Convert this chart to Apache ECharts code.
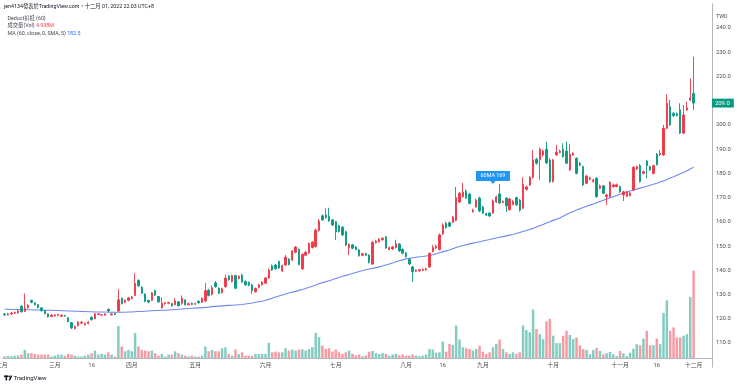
<!DOCTYPE html>
<html><head><meta charset="utf-8">
<script src="https://cdn.jsdelivr.net/npm/echarts@6/dist/echarts.min.js"></script>
<style>html,body{margin:0;padding:0;background:#fff;}#c{width:740px;height:385px;}</style>
</head><body><div id="c"></div>
<script>
// ---- categories (trading days per month, Feb 7 2022 .. Dec 1 2022) ----
const monthNames = ['2022-02','2022-03','2022-04','2022-05','2022-06','2022-07','2022-08','2022-09','2022-10','2022-11','2022-12'];
const monthDays = [15,23,19,21,21,21,23,21,20,22,1];
const tickIndex = [0,15,26,38,57,78,99,120,131,143,164,184,195,206];
const tickText = ['二月','三月','16','四月','五月','六月','七月','八月','16','九月','十月','十一月','16','十二月'];
const yTicks = [110,120,130,140,150,160,170,180,190,200,220,230,240];

// ---- OHLC rows: [open, close, low, high] ----
const ohlcFeb = [
[122,121.6,121.2,122.4],[121.6,122,121.3,122.5],[122,122.3,121.7,122.8],[122.3,122.6,121.9,123],[122.5,123.2,122,123.8],
[125.2,122.9,122.5,125.6],[123,124.3,122.8,130.4],[124.5,125.5,124.2,126],[127.6,126.8,126.4,127.8],[126.6,125.8,125.5,126.9],
[125.8,124.6,124.3,126],[124.5,123.3,123,124.7],[123.4,122.1,121.8,123.6],[122,120.8,120.5,122.2],[120.9,121.5,120.6,121.8]];
const ohlcMar = [
[121.2,121.6,120.9,121.9],[121.4,121.8,121,122],[121,121.4,120.7,121.8],[121.3,121.1,120.8,121.6],[120.4,118.8,118.5,120.7],
[118.4,116.2,115.7,118.6],[116,116.8,115.6,117.2],[117.2,118.6,116.8,119],[118.2,118.6,117.9,119],[117.5,118,117.2,118.4],
[118,118.6,117.7,119],[120.6,119.6,119.3,121],[120,122,119.8,122.3],[121.8,122,121.5,122.3],[121.5,121.6,121.2,121.9],
[121.5,122,121.2,122.2],[123.9,123.2,122.8,124.2],[121.6,122,121.4,122.4],[122.2,121.8,121.4,122.4],[123.2,127.8,122.9,132.2],
[128.4,126.3,125.8,128.8],[126.8,127.6,126.4,128],[127.6,128.6,127.2,129]];
const ohlcApr = [
[128.4,129,128,129.4],[129.6,134.6,129.4,138.8],[135.8,133.6,133.2,136.3],[133,130.6,130.2,133.4],[130.2,127.2,126.8,130.4],
[127.6,126.9,126.4,127.8],[127.6,130.7,127.4,131],[131.6,129.8,129.4,132],[129.2,127,126.6,129.4],[124.5,126.4,124.2,128.8],
[126.2,126.6,125.8,127],[126.4,126.7,126,127],[126.3,125.3,125,126.6],[125.8,127.4,125.5,128.4],[127,125.4,125,127.3],
[126.4,128.4,125.8,129.6],[127.8,125.8,125.4,128],[125.8,126.2,125.5,126.6],[126.4,125.9,125.6,126.7]];
const ohlcMay = [
[126,126.3,125.7,126.6],[127.2,126.6,126.2,127.6],[126.8,128.4,126.6,128.8],[127.4,131.6,126.8,134.7],[131.8,129.6,129.2,132.4],
[130,132.8,129.6,133.8],[134.8,133.2,132.8,135.6],[132.6,130.6,130.2,133],[130.8,132.4,130.4,132.8],[133.2,136.8,132.8,138.2],
[137.6,136.1,135.7,138],[135.4,137.8,135,138.2],[137.8,132.6,132.2,138.2],[136.6,137.5,136.2,137.9],[138,135.2,134.8,138.6],
[135.4,134,133.6,135.8],[135,133.8,133.4,135.4],[134,131.6,130.3,134.4],[131.1,132.5,130.8,132.9],[133,134,132.6,134.4],
[134,135.1,133.7,135.5]];
const ohlcJun = [
[134.7,136.8,134.4,137.2],[136.8,140.1,136.5,140.8],[141.9,140.1,139.7,142.4],[142.2,140.6,140.2,142.6],[143.6,140.9,140.5,144],
[139.7,141.9,139.3,142.3],[142.2,145.4,141.8,146.3],[144.6,142.4,142,145],[144.2,148,143.8,148.4],[147.4,149.6,147,150],
[148.6,142.4,142,149],[140.6,146.6,140.2,147],[146.2,147.4,145.8,148],[147.1,151.1,146.8,151.5],[149.4,151.6,149,152],
[149.8,156.6,149.4,157.2],[156.4,160.3,156,161.2],[162.5,160.8,160.4,163],[162.8,161.8,161.3,165.6],[162.2,160.4,160,165.8],
[160.8,158.7,158.3,161.2]];
const ohlcJul = [
[160,155.9,152.5,160.4],[158.4,156,155.6,158.8],[157.8,154.6,154.2,158.2],[155.9,150.4,150,156.3],[149.3,150.7,146.3,151.1],
[150.5,149.1,148.7,150.9],[149.6,148.6,148.2,150],[148.4,146,145.6,148.8],[146.2,146.8,145.8,147.2],[146.8,146.2,145.8,147.2],
[146.3,143.2,142.8,146.6],[142.6,151.6,142.2,152],[151.4,152,151,152.6],[151.8,152.8,151.4,153.2],[152.6,153.2,152.2,153.6],
[153.8,149.2,148.8,154.2],[148.6,149.4,148.2,149.8],[148.8,149.6,148.4,150],[149.4,151,149,152.6],[150.8,148,147.6,151.2],
[148.6,147,146.6,149]];
const ohlcAug = [
[147.2,145.6,145.2,147.6],[144.6,142.6,142.2,145],[141.4,139.4,135.2,141.8],[139.6,140,139.2,140.4],[139.8,140.2,139.4,140.6],
[140,140.3,139.6,140.8],[140.2,140.6,139.8,141],[141.4,147,141,147.4],[147.8,149.4,147.4,150.4],[149.2,149.8,148.8,150.6],
[148.6,154.6,148.2,155.2],[155,158.7,154.6,159.4],[159.4,157.6,157.2,160],[159.6,158.2,157.8,160.2],[159.8,162,159.4,162.4],
[160.6,170,160.2,174.4],[168.2,171.8,167.8,172.4],[170.4,172.3,170,176],[172.7,169.8,169.4,173.4],[171.4,167.6,167.2,172],
[164.2,164.8,163.8,165.4],[166.1,169,165.8,169.6],[169.8,164.5,164,170.4]];
const ohlcSep = [
[166.1,163.6,163.2,166.6],[163.4,162.8,162.4,163.8],[163.6,162.4,162,164],[163.6,168.6,163.2,169.2],[168.2,170.3,167.8,170.8],
[171.5,167.8,167.4,175.6],[168,168.4,167.6,168.8],[169.8,166.6,164,170.2],[165,169.4,164.6,170],[167.2,168.4,166.8,169],
[170,167,166.6,170.4],[169,164.8,164.2,169.4],[165.6,175.4,165.2,178.4],[173.4,174.4,172.8,175],[175.2,178.4,174.8,178.8],
[178.4,185.5,177.8,189.6],[185.8,184.2,183.6,186.4],[185.6,190,177.3,190.6],[187.6,189.2,187,189.8],[190,184.3,183.8,193.1],
[185.5,176.6,176,186.2]];
const ohlcOct = [
[176.6,185.5,176.2,186],[187.6,188.7,187.2,191.7],[188.6,189.2,188.2,189.8],[190,186.9,186.4,192.4],[189.2,184.2,183.8,193.1],
[181.4,187.9,181,192],[187.6,188.2,187.2,188.8],[186.2,180,179.6,186.6],[184.2,183.4,183,184.8],[182.8,175.2,174.8,183.2],
[175.9,178.9,175.5,179.4],[177.6,178.2,177.2,178.6],[176.6,177.3,176.2,177.8],[178,170.4,170,178.4],[173.8,174.9,173.4,175.4],
[174.9,171.8,171.4,175.2],[170.4,171.1,167,171.6],[170.4,176.3,170,176.8],[174.5,175.2,174.1,175.8],[174.6,175.3,174.2,175.8]];
const ohlcNov = [
[174.5,172.4,172,174.9],[171.1,172.4,168.6,172.8],[170.6,172.2,170.2,172.8],[170.8,171.8,170.4,172.4],[173.1,182.5,172.8,183],
[181.8,182.8,181.4,183.2],[183.2,176.6,176.2,183.8],[180,180.7,179.6,181.2],[185.1,183.2,178,185.6],[182.8,181.4,181,183.2],
[180,183.2,179.6,183.6],[187.9,183.6,183.2,188.4],[187.6,188.3,187.2,189.6],[187.6,198.6,187.2,200],[198.6,208.9,198.2,212.6],
[207.5,200,199.6,210.3],[204.8,203.8,203.2,205.4],[204.6,203.9,203.4,205.2],[206.2,196.6,196.2,208.9],[196.6,204.1,196.2,208.2],
[206.2,207.1,205.8,209.6],[210.3,211.2,209.8,219.2]];
const ohlcDec = [[213,209,206.2,228.2]];

// ---- volume (millions) ----
const volFeb = [0.1,0.12,0.1,0.13,0.15,0.2,0.46,0.27,0.27,0.23,0.19,0.19,0.19,0.19,0.08];
const volMar = [0.13,0.19,0.19,0.13,0.23,0.19,0.13,0.08,0.08,0.13,0.19,0.27,0.42,0.19,0.23,0.19,0.32,0.19,0.08,1.81,0.65,0.38,0.46];
const volApr = [0.38,1.41,0.65,0.46,0.42,0.38,0.42,0.27,0.13,0.23,0.08,0.19,0.19,0.38,0.27,0.19,0.13,0.08,0.13];
const volMay = [0.08,0.08,0.13,0.65,0.38,0.45,0.38,0.38,0.55,0.6,0.23,0.13,0.48,0.23,0.32,0.13,0.13,0.13,0.23,0.23,0.23];
const volJun = [0.23,0.86,0.32,0.36,0.32,0.32,0.55,0.42,0.48,0.42,0.48,0.48,0.42,0.51,0.61,1.41,1.18,0.7,0.51,0.55,0.36];
const volJul = [0.48,0.32,0.23,0.32,0.42,0.23,0.15,0.2,0.1,0.15,0.36,0.4,0.28,0.23,0.28,0.23,0.13,0.2,0.23,0.15,0.2];
const volAug = [0.13,0.13,0.2,0.13,0.1,0.13,0.2,0.51,0.48,0.3,0.32,0.93,0.36,0.8,0.74,1.83,1.05,0.61,0.55,0.51,0.42,0.51,0.7];
const volSep = [0.36,0.23,0.32,0.61,0.8,1.05,0.51,0.32,0.23,0.32,0.23,0.32,1.84,1.58,1.46,2.74,1.64,1.35,1.07,2.06,2.21];
const volOct = [1.26,0.84,0.84,1.26,1.54,1.3,1.07,1.16,0.72,0.5,0.46,0.21,0.46,0.57,0.4,0.21,0.27,0.34,0.21,0.11];
const volNov = [0.4,0.27,0.11,0.3,0.53,0.78,0.72,1.1,1.54,0.72,0.72,1.1,0.78,2.55,3.26,1.54,1.73,1.16,1.16,1.26,1.35,3.45];
const volDec = [4.938];

// ---- 60-day SMA ----
const ma60 = [
123.9,123.9,123.8,123.8,123.8,123.7,123.7,123.7,123.7,123.6,
123.6,123.6,123.5,123.5,123.5,123.4,123.4,123.3,123.3,123.2,
123.2,123.1,123.1,123.0,123.0,122.9,122.9,122.8,122.8,122.8,
122.8,122.7,122.7,122.7,122.7,122.7,122.7,122.8,122.8,122.9,
123.0,123.0,123.1,123.2,123.3,123.4,123.4,123.5,123.5,123.6,
123.7,123.8,123.9,124.0,124.1,124.2,124.3,124.4,124.5,124.6,
124.7,124.8,125.0,125.1,125.2,125.3,125.4,125.5,125.6,125.7,
125.8,125.9,126.1,126.3,126.5,126.8,127.0,127.2,127.6,128.0,
128.5,129.0,129.4,129.8,130.2,130.6,131.0,131.3,131.7,132.1,
132.5,133.0,133.4,133.9,134.4,134.9,135.3,135.7,136.1,136.6,
137.0,137.5,137.9,138.3,138.7,139.1,139.5,139.9,140.2,140.5,
140.8,141.1,141.4,141.8,142.2,142.6,143.0,143.5,143.9,144.3,
144.7,145.0,145.2,145.4,145.6,145.7,145.9,146.1,146.4,146.8,
147.2,147.6,148.0,148.4,148.9,149.4,149.8,150.2,150.5,150.9,
151.2,151.5,151.8,152.1,152.4,152.7,153.0,153.3,153.6,153.9,
154.2,154.5,154.8,155.2,155.6,156.0,156.4,156.8,157.3,157.9,
158.4,158.9,159.5,160.0,160.6,161.1,161.6,162.3,163.0,163.7,
164.3,164.9,165.4,165.9,166.4,166.9,167.4,167.9,168.4,168.9,
169.4,169.9,170.4,170.9,171.4,171.9,172.3,172.7,173.1,173.5,
173.9,174.3,174.7,175.1,175.5,175.9,176.4,176.9,177.5,178.1,
178.6,179.2,179.8,180.4,181.1,181.8,182.5];

const lastClose = 209.0;
const maLast = '182.5';
const volLast = '4.938M';
const deductIndex = 146;
const deductAnchor = 175.6;
const deductLabel = '60MA 169';
const padBars = 5;

// ---- build ----
const ohlc = [].concat(ohlcFeb,ohlcMar,ohlcApr,ohlcMay,ohlcJun,ohlcJul,ohlcAug,ohlcSep,ohlcOct,ohlcNov,ohlcDec);
const vol = [].concat(volFeb,volMar,volApr,volMay,volJun,volJul,volAug,volSep,volOct,volNov,volDec);
const categories = [];
monthNames.forEach((m,k)=>{ for(let d=0; d<monthDays[k]; d++) categories.push(m+'#'+(d+1)); });
for(let p=0;p<padBars;p++) categories.push('pad'+p);
const labelMap = {};
tickIndex.forEach((ix,k)=>{ labelMap[ix] = tickText[k]; });

const UP = '#f23645', DOWN = '#089981';
const FONT = 'Roboto, "Noto Sans CJK TC", sans-serif';
const volData = vol.map((v,i)=>({value:v, itemStyle:{color: ohlc[i][1] >= ohlc[i][0] ? 'rgba(8,153,129,0.5)' : 'rgba(242,54,69,0.5)'}}));

const chart = echarts.init(document.getElementById('c'), null, {renderer:'canvas'});
chart.setOption({
  animation:false,
  backgroundColor:'#ffffff',
  textStyle:{fontFamily:FONT},
  grid:[
    {left:3, right:28, top:3.77, height:363.43},
    {left:3, right:28, top:259, height:99}
  ],
  xAxis:[
    {type:'category', gridIndex:0, data:categories, boundaryGap:true, show:false},
    {type:'category', gridIndex:1, data:categories, boundaryGap:true,
     axisLine:{show:true, lineStyle:{color:'#b2b5be', width:1}},
     axisTick:{show:false},
     axisLabel:{interval:0, margin:5, fontSize:5.8, color:'#4a4d57', fontFamily:FONT,
       formatter:(v,idx)=> idx === 0 ? '' : (labelMap[idx] || '')}}
  ],
  yAxis:[
    {type:'value', gridIndex:0, position:'right', min:100, max:250, interval:10,
     axisLine:{show:true, lineStyle:{color:'#b2b5be', width:1}},
     axisTick:{show:false}, splitLine:{show:false},
     axisLabel:{margin:4, fontSize:5.9, color:'#4a4d57', fontFamily:FONT,
       formatter:v=> yTicks.indexOf(v) >= 0 ? v.toFixed(1) : ''}},
    {type:'value', gridIndex:1, min:0, max:5.6, show:false}
  ],
  series:[
    {type:'candlestick', xAxisIndex:0, yAxisIndex:0, data:ohlc, barWidth:1.9, z:3,
     itemStyle:{color:UP, color0:DOWN, borderColor:UP, borderColor0:DOWN, borderWidth:0.9},
     markLine:{symbol:'none', silent:true, animation:false,
       lineStyle:{color:'rgba(0,0,0,0)', width:0},
       label:{position:'end', distance:0, formatter:lastClose.toFixed(1), backgroundColor:DOWN, color:'#fff',
              fontSize:5.9, padding:[1.5,4,1.5,3], fontFamily:FONT},
       data:[{yAxis:lastClose}]},
     markPoint:{symbol:'path://M0,0L34,0L34,10L19.5,10L17,13L14.5,10L0,10Z', symbolSize:[34,13], symbolOffset:[0,'-50%'],
       silent:true, animation:false,
       itemStyle:{color:'#2196f3'},
       label:{show:true, position:'inside', offset:[0,-1.5], formatter:deductLabel, color:'#fff', fontSize:5.4, fontFamily:FONT},
       data:[{coord:[deductIndex, deductAnchor]}]}
    },
    {type:'line', xAxisIndex:0, yAxisIndex:0, data:ma60, showSymbol:false, symbol:'none', z:2,
     lineStyle:{color:'#7088f2', width:1.1}},
    {type:'bar', xAxisIndex:1, yAxisIndex:1, data:volData, barWidth:'74%', z:1}
  ],
  graphic:[
    {type:'text', x:7.5, y:366, style:{text:tickText[0], fill:'#4a4d57', fontSize:5.8, fontFamily:FONT, align:'right', verticalAlign:'middle'}},
    {type:'text', x:4, y:7, style:{text:'jen4134發表於TradingView.com，十二月 01, 2022 22:03 UTC+8', fill:'#131722', fontSize:5.3, fontFamily:FONT, verticalAlign:'middle'}},
    {type:'text', x:7.5, y:18.5, style:{text:'Deduct扣抵 (60)', fill:'#434651', fontSize:5.3, fontFamily:FONT, verticalAlign:'middle'}},
    {type:'text', x:7.5, y:26, style:{text:'{a|成交量(Vol)} {b|'+volLast+'}', fontSize:5.3, fontFamily:FONT, verticalAlign:'middle',
       rich:{a:{fill:'#434651', fontSize:5.3, fontFamily:FONT}, b:{fill:'#f23645', fontSize:5.3, fontFamily:FONT}}}},
    {type:'text', x:7.5, y:33.5, style:{text:'{a|MA (60, close, 0, SMA, 5)} {b|'+maLast+'}', fontSize:5.3, fontFamily:FONT, verticalAlign:'middle',
       rich:{a:{fill:'#434651', fontSize:5.3, fontFamily:FONT}, b:{fill:'#2962ff', fontSize:5.3, fontFamily:FONT}}}},
    {type:'text', x:716, y:17, style:{text:'TWD', fill:'#4a4d57', fontSize:5.4, fontFamily:FONT, verticalAlign:'middle'}},
    {type:'rect', shape:{x:4, y:375.5, width:4.2, height:1.6}, style:{fill:'#131722'}},
    {type:'rect', shape:{x:5.5, y:375.5, width:1.6, height:5}, style:{fill:'#131722'}},
    {type:'circle', shape:{cx:9.3, cy:376.4, r:0.9}, style:{fill:'#131722'}},
    {type:'polygon', shape:{points:[[8.6,380.5],[10.8,375.5],[12.4,375.5],[10.2,380.5]]}, style:{fill:'#131722'}},
    {type:'text', x:13.5, y:378, style:{text:'TradingView', fill:'#131722', fontSize:6, fontFamily:FONT, verticalAlign:'middle'}}
  ]
});
</script>
</body></html>
